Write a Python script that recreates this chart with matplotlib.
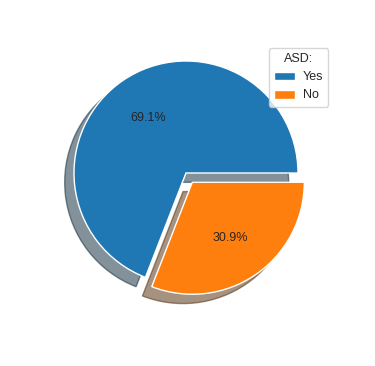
import matplotlib
matplotlib.use("Agg")
import matplotlib.pyplot as plt
import seaborn as sns

# === DATA ===
labels = ["Yes", "No"]
percent = [69.1, 30.9]
explode = [0, 0.1]

sns.set_theme(style="whitegrid")
plt.rcParams['font.family'] = ['Liberation Sans', 'DejaVu Sans']

W, H = 375, 366
fig = plt.figure(figsize=(W / 100, H / 100), dpi=100)
# pie centre ~ (186, 173) px, radius ~112 px
ax = fig.add_axes([(186 - 140) / W, (H - 173 - 140) / H, 280 / W, 280 / H])
ax.pie(percent, explode=explode, autopct='%1.1f%%',
       shadow={'ox': -0.06, 'oy': -0.06},
       colors=['#1f77b4', '#ff7f0e'], textprops={'fontsize': 9})
ax.legend(labels, title="ASD:", loc="upper right", fontsize=9, title_fontsize=9,
          bbox_to_anchor=(328 / W, 1 - 48 / H), bbox_transform=fig.transFigure,
          borderaxespad=0, handlelength=1.7, handletextpad=0.6, borderpad=0.4)

plt.savefig("out.png", dpi=100)
